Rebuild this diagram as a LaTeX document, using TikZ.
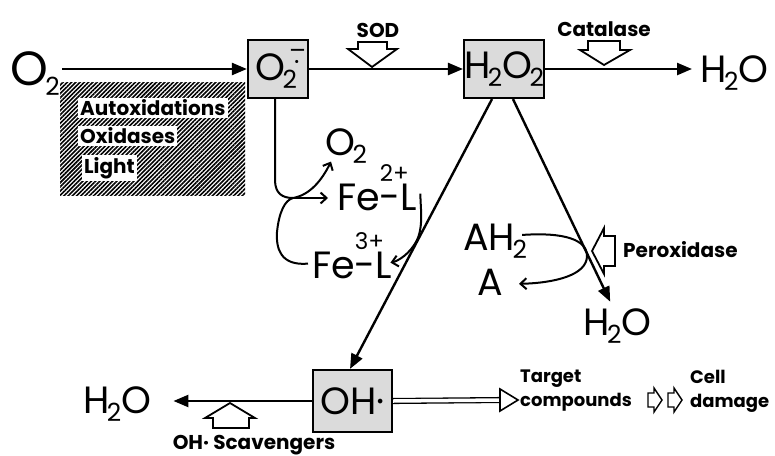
\documentclass[tikz,border=0pt]{standalone}
\usepackage{fontspec}
\setmainfont{Poppins}
\usetikzlibrary{arrows.meta,patterns.meta}
\newcommand\bigf{\fontsize{38}{38}\selectfont}
\newcommand\dn[1]{\kern-2.5pt\raisebox{-0.22em}{\fontsize{25}{25}\selectfont #1}}
\newcommand\upx[1]{\raisebox{0.74em}{\fontsize{23}{23}\selectfont #1}}
\begin{document}
\begin{tikzpicture}[x=1pt,y=-1pt,
  big/.style={font=\bigf, inner sep=0pt},
  lbl/.style={font=\bfseries\fontsize{20}{25}\selectfont, inner sep=0pt},
  smalllbl/.style={font=\bfseries\fontsize{18}{24}\selectfont, inner sep=0pt},
  specbox/.style={draw, line width=2.2pt, fill=black!14, inner sep=0pt},
  flow/.style={line width=2.4pt, -{Triangle[length=15pt,width=12pt]}},
  barb/.style={line width=2pt, -{Straight Barb[length=6pt,width=11pt,line width=2pt]}},
  curveline/.style={line width=2pt},
  hollow/.style={draw, line width=1.8pt, fill=white, line join=miter},
  whitelbl/.style={fill=white, inner sep=2pt, font=\bfseries\fontsize{20}{22}\selectfont, anchor=west}
]
\useasboundingbox (0,0) rectangle (775,455);

% boxes
\node[specbox, big, minimum width=60pt, minimum height=58pt] (sup) at (278,69)
  {O\rlap{\raisebox{0.55em}{\fontsize{25}{25}\selectfont\,–}}\rlap{\raisebox{0.25em}{\fontsize{25}{25}\selectfont\kern9pt·}}\dn{2}\kern4pt};
\node[specbox, big, minimum width=78pt, minimum height=58pt] (hp) at (504,69) {H\dn{2}O\dn{2}};
\node[specbox, big, minimum width=79pt, minimum height=62pt] (oh) at (352.5,401) {OH·};

% texts
\node[big, font=\fontsize{48}{48}\selectfont, anchor=base west] (o2a) at (10,85) {O\dn{2}};
\node[lbl] (sod) at (378,30) {SOD};
\node[lbl] (cat) at (604,29) {Catalase};
\node[big, anchor=base west] (h2oa) at (700,82) {H\dn{2}O};

\node[pattern={Lines[angle=45,distance=3pt,line width=1.6pt]}, minimum width=185pt, minimum height=113pt, inner sep=0pt] (hatch) at (152.5,138.5) {};
\node[whitelbl] (autox) at (78,108) {Autoxidations};
\node[whitelbl] (oxid) at (78,136) {Oxidases};
\node[whitelbl] (light) at (82,168) {Light};

\node[big, anchor=base west] (o2b) at (325,155) {O\dn{2}};
\node[big, anchor=base west] (fe2) at (337,210) {Fe\rlap{\upx{2+}}-L};
\node[big, anchor=base west] (fe3) at (312,278) {Fe\rlap{\upx{3+}}-L};

\node[big, anchor=base west] (ah) at (463,250) {AH\dn{2}};
\node[big, anchor=base west] (a) at (477,295) {A};
\node[big, anchor=base west] (h2ob) at (583,335) {H\dn{2}O};
\node[lbl, anchor=west] (perox) at (623,250) {Peroxidase};

\node[big, anchor=base west] (h2oc) at (83,413) {H\dn{2}O};
\node[lbl] (scav) at (254,445) {OH· Scavengers};
\node[smalllbl, anchor=west, align=left] (target) at (520,391) {Target\\compounds};
\node[smalllbl, anchor=west, align=left] (cell) at (690,391) {Cell\\damage};

% main flow
\draw[flow] ([xshift=2pt]o2a.east |- sup.west) -- (sup.west);
\draw[flow] (sup.east) -- (hp.west);
\draw[flow, shorten >=8pt] (hp.east) -- (h2oa.west |- hp.east);
\draw[hollow] (358,42) -- (387,42) -- (387,49) -- (397,49) -- (372,67) -- (348,49) -- (358,49) -- cycle;
\draw[hollow] (588,41) -- (620,41) -- (620,50) -- (630,50) -- (604,65) -- (580,50) -- (588,50) -- cycle;

% iron cycle
\coordinate (J) at (293,198);
\draw[curveline] ([xshift=-3pt]sup.south) -- (275,180) .. controls (275,194) and (283,198) .. (J);
\draw[barb] (J) -- ([xshift=-9pt]fe2.west |- J);
\draw[barb] (J) .. controls (310,195) and (322,180) .. ([xshift=6pt,yshift=2pt]o2b.south west);
\draw[curveline] ([xshift=-4pt,yshift=-8pt]fe3.west) .. controls (280,266) and (276,248) .. (277,232) .. controls (279,212) and (285,200) .. (J);
\draw[barb] ([xshift=3pt,yshift=-6pt]fe2.east) .. controls (420,205) and (424,225) .. (417,240) .. controls (410,254) and (398,261) .. ([xshift=-2pt,yshift=-7pt]fe3.east);

% H2O2 branches
\draw[flow] ([xshift=-12pt]hp.south) -- ([xshift=-2.5pt]oh.north);
\draw[flow, shorten >=7pt] ([xshift=9pt]hp.south) -- ([xshift=-4pt]h2ob.north);

% peroxidase
\draw[barb] ([xshift=-5pt,yshift=6pt]ah.east) .. controls (565,232) and (587,240) .. (587,256) .. controls (587,275) and (555,283) .. ([xshift=16pt,yshift=-2pt]a.east);
\draw[hollow] (592,251) -- (604,228) -- (604,236) -- (615,236) -- (615,266) -- (604,266) -- (604,274) -- cycle;

% OH branch
\draw[flow, shorten >=22pt] (oh.west) -- (h2oc.east |- oh.west);
\draw[hollow] (230,403) -- (255,418) -- (249,418) -- (249,428) -- (213,428) -- (213,418) -- (205,418) -- cycle;
\coordinate (tc) at (502,400);
\draw[line width=1.3pt, double, double distance=3.5pt] (oh.east) -- (tc);
\draw[hollow, line width=1.6pt] (500,389) -- (518,400) -- (500,411) -- cycle;
\draw[hollow, line width=1.4pt] (648,393) -- (654,393) -- (654,388) -- (662,400) -- (654,412) -- (654,407) -- (648,407) -- cycle;
\draw[hollow, line width=1.4pt] (668,393) -- (674,393) -- (674,388) -- (682,400) -- (674,412) -- (674,407) -- (668,407) -- cycle;
\end{tikzpicture}
\end{document}
